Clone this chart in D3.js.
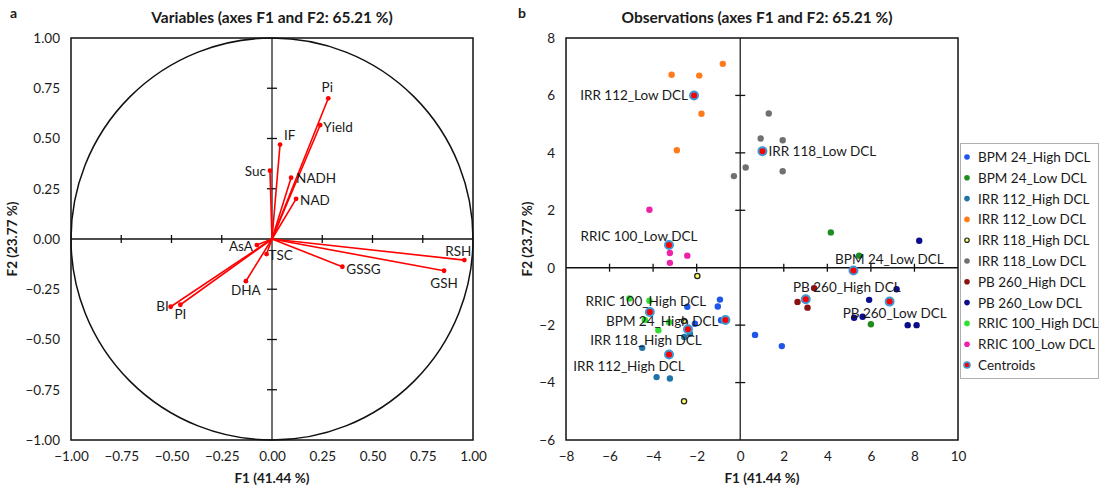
<!DOCTYPE html>
<html><head><meta charset="utf-8">
<script src="https://cdn.jsdelivr.net/npm/d3@7"></script>
<style>
html,body{margin:0;padding:0;background:#fff;}
svg text{font-family:Lato,"Open Sans",sans-serif;fill:#1a1a1a;}
</style></head>
<body>
<svg id="chart" width="1101" height="491"></svg>
<script>
// ---------------- DATA ----------------
// Panel a: variables (correlation circle)
const varNames = ["Pi","Yield","IF","Suc","NADH","NAD","AsA","TSC","DHA","GSSG","GSH","RSH","BI","PI"];
const varF1 = [0.28, 0.24, 0.04, -0.01, 0.095, 0.12, -0.075, -0.027, -0.13, 0.35, 0.856, 0.957, -0.504, -0.456];
const varF2 = [0.70, 0.567, 0.47, 0.34, 0.305, 0.20, -0.03, -0.075, -0.21, -0.138, -0.158, -0.105, -0.337, -0.327];

const axisTicksA = [-1.00, -0.75, -0.50, -0.25, 0.00, 0.25, 0.50, 0.75, 1.00];
const axisTicksBX = [-8, -6, -4, -2, 0, 2, 4, 6, 8, 10];
const axisTicksBY = [-6, -4, -2, 0, 2, 4, 6, 8];

// Panel b: observations
const groupNames = ["BPM 24_High DCL","BPM 24_Low DCL","IRR 112_High DCL","IRR 112_Low DCL","IRR 118_High DCL","IRR 118_Low DCL","PB 260_High DCL","PB 260_Low DCL","RRIC 100_High DCL","RRIC 100_Low DCL"];

const bpm24HighF1 = [-0.93, -1.03, -2.43, -2.08, -0.88, 0.68, 1.91];
const bpm24HighF2 = [-1.11, -1.35, -1.36, -1.95, -1.83, -2.34, -2.73];
const bpm24LowF1 = [4.16, 5.46, 6.00];
const bpm24LowF2 = [1.23, 0.42, -1.97];
const irr112HighF1 = [-2.31, -4.50, -3.84, -3.23, -2.57];
const irr112HighF2 = [-2.30, -2.79, -3.81, -3.86, -2.41];
const irr112LowF1 = [-0.80, -3.15, -1.88, -1.78, -2.91];
const irr112LowF2 = [7.10, 6.72, 6.69, 5.36, 4.09];
const irr118HighF1 = [-1.97, -2.58, -2.58];
const irr118HighF2 = [-0.29, -1.86, -4.65];
const irr118LowF1 = [1.31, 0.94, 1.95, 0.25, -0.29, 1.95];
const irr118LowF2 = [5.37, 4.50, 4.44, 3.49, 3.19, 3.36];
const pb260HighF1 = [3.39, 2.63, 3.09];
const pb260HighF2 = [-0.71, -1.19, -1.39];
const pb260LowF1 = [8.22, 7.18, 5.92, 5.23, 5.62, 7.69, 8.10];
const pb260LowF2 = [0.94, -0.75, -1.12, -1.74, -1.71, -2.00, -2.00];
const rric100HighF1 = [-5.09, -4.17, -4.38, -3.27, -3.76];
const rric100HighF2 = [-1.07, -1.15, -1.82, -1.90, -2.18];
const rric100LowF1 = [-4.17, -3.23, -2.43, -3.23];
const rric100LowF2 = [2.02, 0.51, 0.42, 0.17];

const centroidF1 = [-0.68, 5.20, -3.27, -2.12, -2.40, 1.02, 3.01, 6.86, -4.15, -3.27];
const centroidF2 = [-1.82, -0.10, -3.02, 6.00, -2.14, 4.06, -1.10, -1.18, -1.54, 0.79];

// ---------------- STYLE / LAYOUT ----------------
const groupF1 = [bpm24HighF1,bpm24LowF1,irr112HighF1,irr112LowF1,irr118HighF1,irr118LowF1,pb260HighF1,pb260LowF1,rric100HighF1,rric100LowF1];
const groupF2 = [bpm24HighF2,bpm24LowF2,irr112HighF2,irr112LowF2,irr118HighF2,irr118LowF2,pb260HighF2,pb260LowF2,rric100HighF2,rric100LowF2];
const groupColors = ["#1f55e8","#1e8c1e","#1f74a8","#ff7b1c","#ffff66","#707070","#8b1010","#0c0c8c","#33dd33","#ee22a8"];
const groupStroke = [null,null,null,null,"#222",null,null,null,null,null];

// variable label placement [anchor, dx, dy]
const varLabelPos = {
  "Pi":["middle",-1,-11],"Yield":["start",3,2],"IF":["start",4,-10],"Suc":["end",-4,0],
  "NADH":["start",5,0],"NAD":["start",4,1],"AsA":["end",-4,1],"TSC":["start",2,1],
  "DHA":["middle",0,9],"GSSG":["start",4,2],"GSH":["middle",0,12],"RSH":["middle",-6,-9],
  "BI":["end",-2,-1],"PI":["middle",0,9]
};
// centroid label placement [anchor, dx, dy]
const centLabelPos = [
  ["end",-7,1],["middle",36,-12],["middle",-40,12],["end",-6,0],["middle",-42,11],
  ["start",6,0],["middle",41,-12],["middle",5,11],["middle",-4,-11],["middle",-30,-9]
];

const svg = d3.select("#chart");

function drawFrame(g, x, y, xTicks, yTicks, fmt, tickCenters, cx, cy){
  const [x0,x1] = x.range(), [y1,y0] = y.range();
  // center axes
  g.append("line").attr("x1",x(0)).attr("x2",x(0)).attr("y1",y0).attr("y2",y1)
    .attr("stroke","#222").attr("stroke-width",1.3);
  g.append("line").attr("x1",x0).attr("x2",x1).attr("y1",y(0)).attr("y2",y(0))
    .attr("stroke","#111").attr("stroke-width",1.5);
  // ticks on center axes
  xTicks.filter(v=>v!==0 && x(v)>x0+1 && x(v)<x1-1).forEach(v=>{
    g.append("line").attr("x1",x(v)).attr("x2",x(v)).attr("y1",y(0)-4).attr("y2",y(0)+4)
      .attr("stroke","#111").attr("stroke-width",1.3);
  });
  yTicks.filter(v=>v!==0 && y(v)<y1-1 && y(v)>y0+1).forEach(v=>{
    g.append("line").attr("x1",x(0)-5).attr("x2",x(0)+5).attr("y1",y(v)).attr("y2",y(v))
      .attr("stroke","#111").attr("stroke-width",1.3);
  });
  // frame
  g.append("rect").attr("x",x0).attr("y",y0).attr("width",x1-x0).attr("height",y1-y0)
    .attr("fill","none").attr("stroke","#111").attr("stroke-width",1.5);
  // tick labels
  const xa = d3.axisBottom(x).tickValues(xTicks).tickFormat(fmt).tickSize(0).tickPadding(11);
  const ya = d3.axisLeft(y).tickValues(yTicks).tickFormat(fmt).tickSize(0).tickPadding(11);
  const gx = g.append("g").attr("transform",`translate(0,${y1})`).call(xa);
  const gy = g.append("g").attr("transform",`translate(${x0},0)`).call(ya);
  [gx,gy].forEach(a=>{
    a.select(".domain").remove();
    a.selectAll("text").style("font-family","Lato,'Open Sans',sans-serif").style("font-size","13.5px").attr("fill","#1a1a1a");
  });
}

// ---------------- PANEL A ----------------
const xa = d3.scaleLinear().domain([-1,1]).range([71,473]);
const ya = d3.scaleLinear().domain([-1,1]).range([440,38]);
const gA = svg.append("g");
drawFrame(gA, xa, ya, axisTicksA, axisTicksA, d3.format(".2f"));
// unit circle
gA.append("circle").attr("cx",xa(0)).attr("cy",ya(0)).attr("r",xa(1)-xa(0))
  .attr("fill","none").attr("stroke","#111").attr("stroke-width",1.5);
// vectors
varNames.forEach((n,i)=>{
  gA.append("line").attr("x1",xa(0)).attr("y1",ya(0)).attr("x2",xa(varF1[i])).attr("y2",ya(varF2[i]))
    .attr("stroke","#ff0000").attr("stroke-width",1.6);
});
varNames.forEach((n,i)=>{
  gA.append("circle").attr("cx",xa(varF1[i])).attr("cy",ya(varF2[i])).attr("r",2.4).attr("fill","#ff0000");
  const p = varLabelPos[n];
  gA.append("text").attr("x",xa(varF1[i])+p[1]).attr("y",ya(varF2[i])+p[2])
    .attr("text-anchor",p[0]).attr("dominant-baseline","central")
    .style("font-size","13.5px").text(n);
});
gA.append("text").attr("x",272).attr("y",17).attr("text-anchor","middle").attr("dominant-baseline","central")
  .style("font-size","15.5px").style("font-weight","bold").text("Variables (axes F1 and F2: 65.21 %)");
gA.append("text").attr("x",272).attr("y",478).attr("text-anchor","middle").attr("dominant-baseline","central")
  .style("font-size","13.5px").style("font-weight","bold").text("F1 (41.44 %)");
gA.append("text").attr("transform","translate(12,239) rotate(-90)").attr("text-anchor","middle").attr("dominant-baseline","central")
  .style("font-size","13.5px").style("font-weight","bold").text("F2 (23.77 %)");
gA.append("text").attr("x",10).attr("y",12).attr("dominant-baseline","central")
  .style("font-size","14px").style("font-weight","bold").text("a");

// ---------------- PANEL B ----------------
const xb = d3.scaleLinear().domain([-8,10]).range([566,958]);
const yb = d3.scaleLinear().domain([-6,8]).range([440,38]);
const gB = svg.append("g");
drawFrame(gB, xb, yb, axisTicksBX, axisTicksBY, d3.format("d"));

groupNames.forEach((n,gi)=>{
  groupF1[gi].forEach((v,j)=>{
    gB.append("circle").attr("cx",xb(v)).attr("cy",yb(groupF2[gi][j])).attr("r",groupStroke[gi]?2.6:3.2)
      .attr("fill",groupColors[gi])
      .attr("stroke",groupStroke[gi]||"none").attr("stroke-width",groupStroke[gi]?1.3:0);
  });
});
groupNames.forEach((n,gi)=>{
  const cx = xb(centroidF1[gi]), cy = yb(centroidF2[gi]);
  gB.append("circle").attr("cx",cx).attr("cy",cy).attr("r",4).attr("fill","#ff0000")
    .attr("stroke","#3c9ad6").attr("stroke-width",2);
  const p = centLabelPos[gi];
  gB.append("text").attr("x",cx+p[1]).attr("y",cy+p[2]).attr("text-anchor",p[0]).attr("dominant-baseline","central")
    .style("font-size","13.5px").text(n);
});
gB.append("text").attr("x",757).attr("y",17).attr("text-anchor","middle").attr("dominant-baseline","central")
  .style("font-size","15.5px").style("font-weight","bold").text("Observations (axes F1 and F2: 65.21 %)");
gB.append("text").attr("x",762).attr("y",478).attr("text-anchor","middle").attr("dominant-baseline","central")
  .style("font-size","13.5px").style("font-weight","bold").text("F1 (41.44 %)");
gB.append("text").attr("transform","translate(527,239) rotate(-90)").attr("text-anchor","middle").attr("dominant-baseline","central")
  .style("font-size","13.5px").style("font-weight","bold").text("F2 (23.77 %)");
gB.append("text").attr("x",518).attr("y",12).attr("dominant-baseline","central")
  .style("font-size","14px").style("font-weight","bold").text("b");

// ---------------- LEGEND ----------------
const legendItems = groupNames.concat(["Centroids"]);
const gL = svg.append("g");
gL.append("rect").attr("x",960.5).attr("y",143.5).attr("width",138).attr("height",235)
  .attr("fill","#fff").attr("stroke","#b0b0b0").attr("stroke-width",1);
legendItems.forEach((n,i)=>{
  const y = 157 + i*20.8;
  if(i<groupNames.length){
    gL.append("circle").attr("cx",967).attr("cy",y).attr("r",groupStroke[i]?2.2:2.8)
      .attr("fill",groupColors[i]).attr("stroke",groupStroke[i]||"none").attr("stroke-width",groupStroke[i]?1.2:0);
  } else {
    gL.append("circle").attr("cx",967).attr("cy",y).attr("r",3).attr("fill","#ff0000")
      .attr("stroke","#3c9ad6").attr("stroke-width",1.6);
  }
  gL.append("text").attr("x",978).attr("y",y).attr("dominant-baseline","central")
    .style("font-size","13.5px").text(n);
});
</script>
</body></html>
